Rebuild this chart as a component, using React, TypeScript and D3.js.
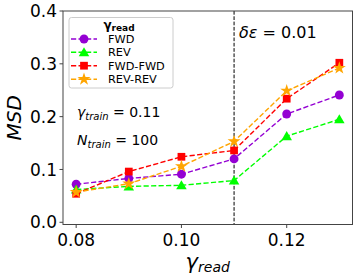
import React from "react";
import * as d3 from "d3";

const xValues = [0.08, 0.09, 0.1, 0.11, 0.12, 0.13];
const seriesNames = ["FWD", "REV", "FWD-FWD", "REV-REV"];
const fwd = [0.072, 0.083, 0.091, 0.12, 0.205, 0.241];
const rev = [0.062, 0.068, 0.07, 0.079, 0.163, 0.195];
const fwdFwd = [0.054, 0.096, 0.124, 0.136, 0.234, 0.302];
const revRev = [0.057, 0.073, 0.106, 0.153, 0.249, 0.292];
const xTicks = [0.08, 0.1, 0.12];
const yTicks = [0.0, 0.1, 0.2, 0.3, 0.4];
const colors = ["#9400D3", "#00FF00", "#FF0000", "#FFA500"];
const markers = ["circle", "triangle", "square", "star"];

const W = 357, H = 278;
const M = { left: 63, right: 352.5, top: 11, bottom: 224.5 };
const FONT = "DejaVu Sans, sans-serif";

function Marker({ type, x, y, color }: { type: string; x: number; y: number; color: string }) {
  const symMap: any = {
    circle: d3.symbolCircle,
    triangle: d3.symbolTriangle,
    square: d3.symbolSquare,
    star: d3.symbolStar,
  };
  const sizeMap: any = { circle: 62, triangle: 48, square: 60, star: 52 };
  const path = d3.symbol(symMap[type], sizeMap[type])() as string;
  const dy = type === "triangle" ? 1 : 0;
  return <path d={path} transform={`translate(${x},${y + dy})`} fill={color} stroke="none" />;
}

export default function App() {
  const x = d3.scaleLinear().domain([0.0775, 0.1325]).range([M.left, M.right]);
  const y = d3.scaleLinear().domain([-0.0042, 0.4]).range([M.bottom, M.top]);
  const all = [fwd, rev, fwdFwd, revRev];
  const line = d3
    .line<number>()
    .x((_, i) => x(xValues[i]))
    .y((d) => y(d));

  const legX = 69, legY = 17.5, legW = 104, legH = 70.5;
  const entryY = [39, 52.3, 65.7, 79.2];

  return (
    <svg width={W} height={H} style={{ position: "absolute", left: 0, top: 0 }} fontFamily={FONT}>
      <rect width={W} height={H} fill="white" />
      <line x1={x(0.11)} x2={x(0.11)} y1={M.top} y2={M.bottom} stroke="#000" strokeWidth={1} strokeDasharray="3.7,1.6" />
      {all.map((s, k) => (
        <g key={k}>
          <path d={line(s) as string} fill="none" stroke={colors[k]} strokeWidth={1.4} strokeDasharray="5.2,2.3" />
          {s.map((v, i) => (
            <Marker key={i} type={markers[k]} x={x(xValues[i])} y={y(v)} color={colors[k]} />
          ))}
        </g>
      ))}
      <rect x={M.left} y={M.top} width={M.right - M.left} height={M.bottom - M.top} fill="none" stroke="#444" strokeWidth={1} />
      {yTicks.map((t) => (
        <g key={t}>
          <line x1={M.left - 3.5} x2={M.left} y1={y(t)} y2={y(t)} stroke="#444" strokeWidth={1} />
          <text x={M.left - 6} y={y(t)} dy="0.36em" textAnchor="end" fontSize={17} fill="#000">
            {t.toFixed(1)}
          </text>
        </g>
      ))}
      {xTicks.map((t) => (
        <g key={t}>
          <line x1={x(t)} x2={x(t)} y1={M.bottom} y2={M.bottom + 3.5} stroke="#444" strokeWidth={1} />
          <text x={x(t)} y={M.bottom + 21} textAnchor="middle" fontSize={17} fill="#000">
            {t.toFixed(2)}
          </text>
        </g>
      ))}
      <text transform={`translate(21,${(M.top + M.bottom) / 2}) rotate(-90)`} textAnchor="middle" fontSize={20} fontStyle="italic" fill="#000">
        MSD
      </text>
      <text x={(M.left + M.right) / 2} y={269} textAnchor="middle" fontSize={21} fontStyle="italic" fill="#000">
        γ<tspan fontSize={14} dy={3}>read</tspan>
      </text>
      <text x={239} y={38} fontSize={16} fill="#000">
        <tspan fontStyle="italic">δε</tspan> = 0.01
      </text>
      <text x={77} y={117} fontSize={14} fill="#000">
        <tspan fontStyle="italic">γ</tspan>
        <tspan fontStyle="italic" fontSize={10} dy={2.5}>train</tspan>
        <tspan dy={-2.5}> = 0.11</tspan>
      </text>
      <text x={77} y={145} fontSize={14} fill="#000">
        <tspan fontStyle="italic">N</tspan>
        <tspan fontStyle="italic" fontSize={10} dy={2.5}>train</tspan>
        <tspan dy={-2.5}> = 100</tspan>
      </text>
      <rect x={legX} y={legY} width={legW} height={legH} rx={2.5} fill="white" fillOpacity={0.8} stroke="#ccc" strokeWidth={1} />
      <text x={legX + legW / 2 - 2} y={29} textAnchor="middle" fontSize={12} fontWeight="bold" fill="#000">
        γ<tspan fontSize={9} dy={2}>read</tspan>
      </text>
      {seriesNames.map((n, k) => (
        <g key={n}>
          <line x1={71} x2={97} y1={entryY[k]} y2={entryY[k]} stroke={colors[k]} strokeWidth={1.4} strokeDasharray="5.2,2.3" />
          <Marker type={markers[k]} x={84} y={entryY[k]} color={colors[k]} />
          <text x={108} y={entryY[k]} dy="0.36em" fontSize={11.3} fill="#000">
            {n}
          </text>
        </g>
      ))}
    </svg>
  );
}
